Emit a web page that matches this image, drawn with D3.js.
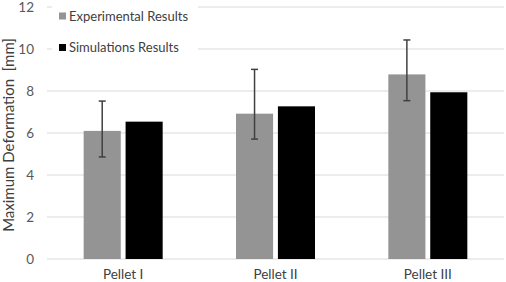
<!DOCTYPE html>
<html><head><meta charset="utf-8">
<script src="https://cdn.jsdelivr.net/npm/d3@7"></script>
<style>body{margin:0;background:#fff}svg{display:block}</style>
</head><body>
<svg id="c" width="506" height="282"></svg>
<script>
const categories = ["Pellet I", "Pellet II", "Pellet III"];
const seriesNames = ["Experimental Results", "Simulations Results"];
const experimental = [6.1, 6.92, 8.79];
const simulations = [6.54, 7.27, 7.94];
const errLow = [4.86, 5.71, 7.54];
const errHigh = [7.52, 9.03, 10.43];
const yTicks = [0, 2, 4, 6, 8, 10, 12];
const colors = ["#949494", "#000000"];

(function () {
const svg = d3.select("#c");
const font = "Lato, 'Open Sans', sans-serif";
const mLeft = 47, mRight = 504, mTop = 7, mBottom = 259;
const x = d3.scaleBand().domain(categories).range([mLeft, mRight]);
const xs = d3.scaleBand().domain(seriesNames).range([0, 79]).paddingInner(0.115);
const y = d3.scaleLinear().domain([0, 12]).range([mBottom, mTop]);

// gridlines
svg.append("g").selectAll("line").data(yTicks).join("line")
  .attr("x1", mLeft).attr("x2", mRight)
  .attr("y1", d => y(d)).attr("y2", d => y(d))
  .attr("stroke", "#d9d9d9").attr("stroke-width", 1.2);

// y tick labels
svg.append("g").selectAll("text").data(yTicks).join("text")
  .attr("x", 34).attr("y", d => y(d)).attr("dy", "0.36em")
  .attr("text-anchor", "end").attr("font-family", font).attr("font-size", 13.5)
  .attr("fill", "#595959").text(d => d);

// legend background
svg.append("rect").attr("x", 52).attr("y", 0).attr("width", 146).attr("height", 62).attr("fill", "#fff");

const data = categories.map((c, i) => ({c, vals: [experimental[i], simulations[i]], lo: errLow[i], hi: errHigh[i]}));
const g = svg.append("g").selectAll("g").data(data).join("g")
  .attr("transform", d => `translate(${x(d.c) + (x.bandwidth() - 79) / 2},0)`);
g.selectAll("rect").data(d => d.vals.map((v, j) => ({v, s: seriesNames[j], j}))).join("rect")
  .attr("x", d => xs(d.s)).attr("width", xs.bandwidth())
  .attr("y", d => y(d.v)).attr("height", d => y(0) - y(d.v))
  .attr("fill", d => colors[d.j]);

// error bars
const eb = g.append("g").attr("stroke", "#404040").attr("stroke-width", 1.5)
  .attr("transform", `translate(${xs(seriesNames[0]) + xs.bandwidth() / 2},0)`);
eb.append("line").attr("x1", 0).attr("x2", 0).attr("y1", d => y(d.hi)).attr("y2", d => y(d.lo));
eb.append("line").attr("x1", -3.5).attr("x2", 3.5).attr("y1", d => y(d.hi)).attr("y2", d => y(d.hi));
eb.append("line").attr("x1", -3.5).attr("x2", 3.5).attr("y1", d => y(d.lo)).attr("y2", d => y(d.lo));

// category labels
svg.append("g").selectAll("text").data(categories).join("text")
  .attr("x", d => x(d) + x.bandwidth() / 2).attr("y", 279)
  .attr("text-anchor", "middle").attr("font-family", font).attr("font-size", 13.5)
  .attr("fill", "#404040").text(d => d);

// legend
const lg = svg.append("g").selectAll("g").data(seriesNames).join("g")
  .attr("transform", (d, i) => `translate(59,${16 + i * 31.5})`);
lg.append("rect").attr("x", 0).attr("y", -3.5).attr("width", 7).attr("height", 7)
  .attr("fill", (d, i) => colors[i]);
lg.append("text").attr("x", 10).attr("y", 0).attr("dy", "0.36em")
  .attr("font-family", font).attr("font-size", 13).attr("fill", "#404040").text(d => d);

// y axis title
svg.append("text").attr("transform", "translate(14,135) rotate(-90)")
  .attr("text-anchor", "middle").attr("font-family", font).attr("font-size", 15)
  .attr("fill", "#404040").attr("xml:space", "preserve").text("Maximum Deformation  [mm]");
})();
</script>
</body></html>
